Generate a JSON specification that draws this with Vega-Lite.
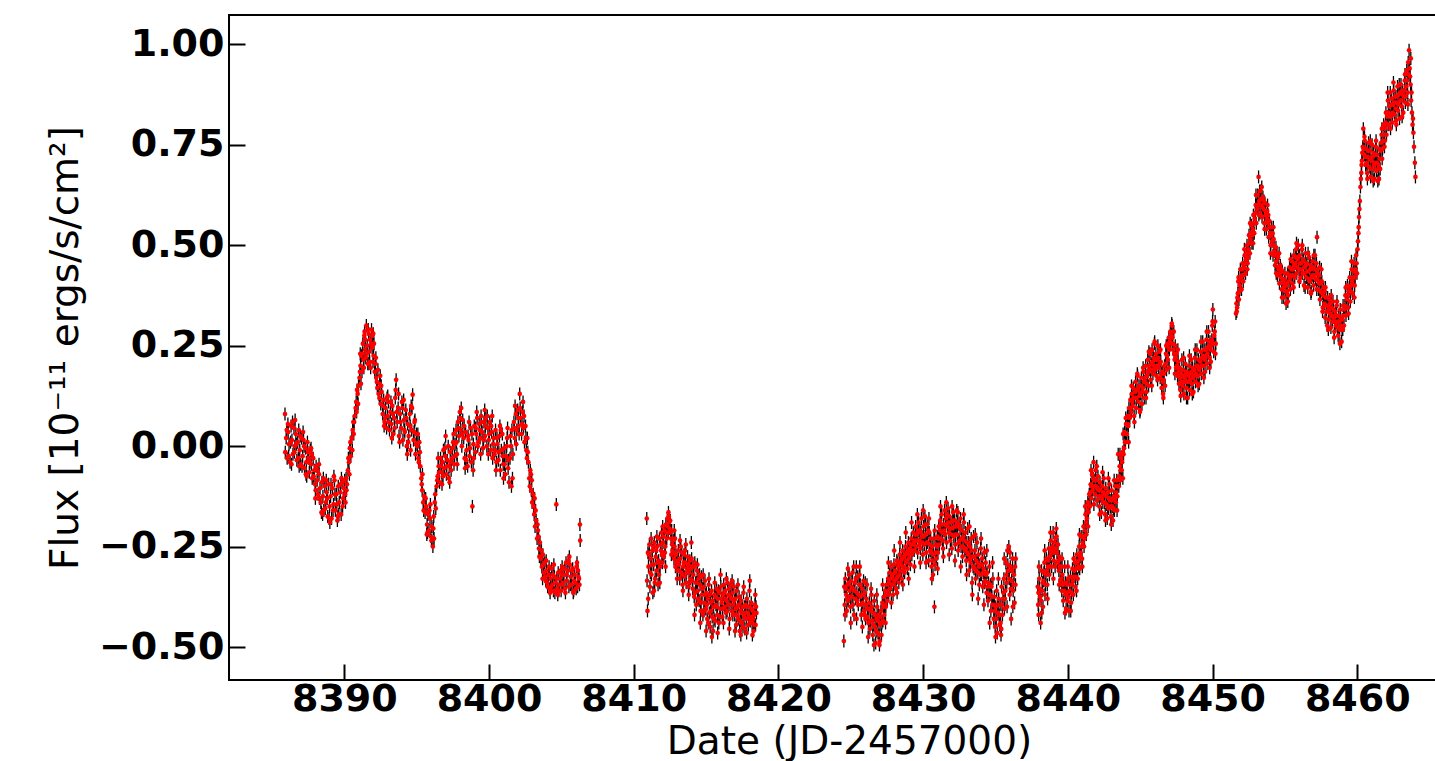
{
"$schema": "https://vega.github.io/schema/vega-lite/v6.json",
"width": 1208, "height": 665,
"autosize": "none",
"padding": {"left": 229, "top": 15, "right": 0, "bottom": 81},
"background": "white",
"config": {"view": {"stroke": "black", "strokeWidth": 2}, "font": "DejaVu Sans"},
"data": {"values": [
{"t":8385.90,"f":0.080},{"t":8385.92,"f":-0.015},{"t":8385.98,"f":0.020},{"t":8386.05,"f":-0.030},{"t":8386.12,"f":0.035},{"t":8386.18,"f":0.005},{"t":8386.25,"f":-0.040},{"t":8386.32,"f":0.050},{"t":8386.38,"f":0.015},{"t":8386.45,"f":-0.020},{"t":8386.52,"f":0.045},{"t":8386.58,"f":0.000},{"t":8386.65,"f":0.030},{"t":8386.72,"f":-0.035},{"t":8386.78,"f":0.010},{"t":8386.85,"f":0.040},{"t":8386.92,"f":-0.010},{"t":8386.98,"f":-0.045},{"t":8387.05,"f":0.020},{"t":8387.12,"f":-0.025},{"t":8387.18,"f":0.015},{"t":8387.25,"f":-0.055},{"t":8387.32,"f":-0.005},{"t":8387.38,"f":-0.040},{"t":8387.45,"f":0.010},{"t":8387.52,"f":-0.030},{"t":8387.58,"f":-0.065},{"t":8387.65,"f":-0.010},{"t":8387.72,"f":-0.045},{"t":8387.78,"f":-0.080},{"t":8387.85,"f":-0.030},{"t":8387.92,"f":-0.060},{"t":8387.98,"f":-0.095},{"t":8388.05,"f":-0.050},{"t":8388.12,"f":-0.085},{"t":8388.18,"f":-0.120},{"t":8388.25,"f":-0.070},{"t":8388.32,"f":-0.105},{"t":8388.38,"f":-0.140},{"t":8388.45,"f":-0.090},{"t":8388.52,"f":-0.125},{"t":8388.58,"f":-0.160},{"t":8388.65,"f":-0.100},{"t":8388.72,"f":-0.140},{"t":8388.78,"f":-0.115},{"t":8388.85,"f":-0.175},{"t":8388.92,"f":-0.095},{"t":8388.98,"f":-0.150},{"t":8389.05,"f":-0.125},{"t":8389.12,"f":-0.180},{"t":8389.18,"f":-0.105},{"t":8389.25,"f":-0.145},{"t":8389.32,"f":-0.085},{"t":8389.38,"f":-0.160},{"t":8389.45,"f":-0.120},{"t":8389.52,"f":-0.185},{"t":8389.58,"f":-0.100},{"t":8389.65,"f":-0.140},{"t":8389.72,"f":-0.115},{"t":8389.78,"f":-0.170},{"t":8389.85,"f":-0.090},{"t":8389.92,"f":-0.130},{"t":8389.98,"f":-0.105},{"t":8390.05,"f":-0.120},{"t":8390.12,"f":-0.080},{"t":8390.18,"f":-0.095},{"t":8390.25,"f":-0.060},{"t":8390.32,"f":-0.040},{"t":8390.38,"f":-0.005},{"t":8390.45,"f":-0.025},{"t":8390.52,"f":0.020},{"t":8390.58,"f":0.040},{"t":8390.65,"f":0.030},{"t":8390.72,"f":0.075},{"t":8390.78,"f":0.095},{"t":8390.85,"f":0.085},{"t":8390.92,"f":0.130},{"t":8390.98,"f":0.150},{"t":8391.05,"f":0.170},{"t":8391.12,"f":0.200},{"t":8391.18,"f":0.225},{"t":8391.22,"f":0.185},{"t":8391.28,"f":0.255},{"t":8391.32,"f":0.215},{"t":8391.38,"f":0.275},{"t":8391.42,"f":0.240},{"t":8391.48,"f":0.220},{"t":8391.52,"f":0.300},{"t":8391.58,"f":0.250},{"t":8391.62,"f":0.205},{"t":8391.68,"f":0.280},{"t":8391.72,"f":0.235},{"t":8391.78,"f":0.265},{"t":8391.82,"f":0.195},{"t":8391.88,"f":0.290},{"t":8391.92,"f":0.245},{"t":8391.98,"f":0.210},{"t":8392.05,"f":0.255},{"t":8392.10,"f":0.185},{"t":8392.18,"f":0.220},{"t":8392.25,"f":0.160},{"t":8392.32,"f":0.190},{"t":8392.38,"f":0.130},{"t":8392.45,"f":0.155},{"t":8392.52,"f":0.105},{"t":8392.58,"f":0.135},{"t":8392.65,"f":0.080},{"t":8392.72,"f":0.115},{"t":8392.78,"f":0.060},{"t":8392.85,"f":0.095},{"t":8392.92,"f":0.045},{"t":8392.98,"f":0.075},{"t":8393.05,"f":0.110},{"t":8393.12,"f":0.040},{"t":8393.18,"f":0.085},{"t":8393.25,"f":0.055},{"t":8393.32,"f":0.100},{"t":8393.38,"f":0.030},{"t":8393.45,"f":0.070},{"t":8393.52,"f":0.120},{"t":8393.58,"f":0.165},{"t":8393.65,"f":0.060},{"t":8393.72,"f":0.095},{"t":8393.78,"f":0.025},{"t":8393.85,"f":0.080},{"t":8393.92,"f":0.045},{"t":8393.98,"f":0.110},{"t":8394.05,"f":0.015},{"t":8394.12,"f":0.065},{"t":8394.18,"f":0.035},{"t":8394.25,"f":0.090},{"t":8394.32,"f":0.000},{"t":8394.38,"f":0.055},{"t":8394.45,"f":0.025},{"t":8394.52,"f":0.080},{"t":8394.58,"f":-0.010},{"t":8394.65,"f":0.040},{"t":8394.72,"f":0.128},{"t":8394.78,"f":0.015},{"t":8394.85,"f":0.060},{"t":8394.92,"f":-0.020},{"t":8394.98,"f":0.030},{"t":8395.05,"f":0.000},{"t":8395.12,"f":-0.030},{"t":8395.18,"f":0.010},{"t":8395.25,"f":-0.050},{"t":8395.32,"f":-0.080},{"t":8395.38,"f":-0.110},{"t":8395.45,"f":-0.140},{"t":8395.52,"f":-0.125},{"t":8395.58,"f":-0.165},{"t":8395.65,"f":-0.150},{"t":8395.72,"f":-0.195},{"t":8395.78,"f":-0.170},{"t":8395.85,"f":-0.210},{"t":8395.92,"f":-0.180},{"t":8395.98,"f":-0.225},{"t":8396.05,"f":-0.200},{"t":8396.12,"f":-0.250},{"t":8396.18,"f":-0.175},{"t":8396.25,"f":-0.140},{"t":8396.32,"f":-0.155},{"t":8396.38,"f":-0.100},{"t":8396.45,"f":-0.075},{"t":8396.52,"f":-0.050},{"t":8396.58,"f":-0.090},{"t":8396.65,"f":-0.030},{"t":8396.72,"f":-0.065},{"t":8396.78,"f":-0.040},{"t":8396.85,"f":-0.010},{"t":8396.92,"f":-0.055},{"t":8396.98,"f":-0.025},{"t":8397.05,"f":-0.070},{"t":8397.12,"f":-0.035},{"t":8397.18,"f":0.000},{"t":8397.25,"f":-0.050},{"t":8397.32,"f":-0.015},{"t":8397.38,"f":-0.060},{"t":8397.45,"f":-0.030},{"t":8397.52,"f":0.010},{"t":8397.58,"f":-0.045},{"t":8397.65,"f":0.005},{"t":8397.72,"f":0.040},{"t":8397.78,"f":-0.020},{"t":8397.85,"f":0.060},{"t":8397.92,"f":0.025},{"t":8397.98,"f":0.085},{"t":8398.05,"f":0.040},{"t":8398.12,"f":0.000},{"t":8398.18,"f":0.065},{"t":8398.25,"f":0.020},{"t":8398.32,"f":-0.030},{"t":8398.38,"f":0.035},{"t":8398.45,"f":-0.010},{"t":8398.52,"f":-0.050},{"t":8398.58,"f":0.015},{"t":8398.65,"f":-0.025},{"t":8398.72,"f":0.045},{"t":8398.78,"f":-0.040},{"t":8398.85,"f":-0.150},{"t":8398.92,"f":0.005},{"t":8398.98,"f":0.050},{"t":8399.05,"f":-0.015},{"t":8399.12,"f":0.030},{"t":8399.18,"f":0.070},{"t":8399.25,"f":0.010},{"t":8399.32,"f":0.055},{"t":8399.38,"f":0.020},{"t":8399.45,"f":0.075},{"t":8399.52,"f":0.035},{"t":8399.58,"f":-0.005},{"t":8399.65,"f":0.060},{"t":8399.72,"f":0.025},{"t":8399.78,"f":0.070},{"t":8399.85,"f":0.000},{"t":8399.92,"f":0.045},{"t":8399.98,"f":0.015},{"t":8400.05,"f":0.060},{"t":8400.12,"f":-0.010},{"t":8400.18,"f":0.035},{"t":8400.25,"f":-0.030},{"t":8400.32,"f":0.020},{"t":8400.38,"f":-0.020},{"t":8400.45,"f":0.040},{"t":8400.52,"f":-0.040},{"t":8400.58,"f":0.005},{"t":8400.65,"f":-0.035},{"t":8400.72,"f":0.025},{"t":8400.78,"f":-0.060},{"t":8400.85,"f":-0.010},{"t":8400.92,"f":0.030},{"t":8400.98,"f":-0.045},{"t":8401.05,"f":-0.005},{"t":8401.12,"f":-0.070},{"t":8401.18,"f":-0.025},{"t":8401.25,"f":0.020},{"t":8401.32,"f":-0.055},{"t":8401.38,"f":-0.090},{"t":8401.45,"f":-0.030},{"t":8401.52,"f":0.000},{"t":8401.58,"f":0.040},{"t":8401.65,"f":-0.020},{"t":8401.72,"f":0.060},{"t":8401.78,"f":0.020},{"t":8401.85,"f":0.080},{"t":8401.92,"f":0.040},{"t":8401.98,"f":0.090},{"t":8402.05,"f":0.050},{"t":8402.12,"f":0.130},{"t":8402.18,"f":0.070},{"t":8402.25,"f":0.030},{"t":8402.32,"f":0.085},{"t":8402.38,"f":0.045},{"t":8402.45,"f":0.010},{"t":8402.52,"f":0.050},{"t":8402.58,"f":-0.010},{"t":8402.65,"f":0.020},{"t":8402.72,"f":-0.040},{"t":8402.78,"f":-0.080},{"t":8402.85,"f":-0.060},{"t":8402.92,"f":-0.110},{"t":8402.98,"f":-0.140},{"t":8403.05,"f":-0.120},{"t":8403.12,"f":-0.170},{"t":8403.18,"f":-0.200},{"t":8403.25,"f":-0.185},{"t":8403.32,"f":-0.230},{"t":8403.38,"f":-0.210},{"t":8403.45,"f":-0.255},{"t":8403.52,"f":-0.240},{"t":8403.58,"f":-0.280},{"t":8403.65,"f":-0.300},{"t":8403.72,"f":-0.270},{"t":8403.78,"f":-0.315},{"t":8403.85,"f":-0.290},{"t":8403.92,"f":-0.335},{"t":8403.98,"f":-0.310},{"t":8404.05,"f":-0.350},{"t":8404.12,"f":-0.320},{"t":8404.18,"f":-0.355},{"t":8404.25,"f":-0.330},{"t":8404.32,"f":-0.305},{"t":8404.38,"f":-0.345},{"t":8404.45,"f":-0.360},{"t":8404.52,"f":-0.325},{"t":8404.58,"f":-0.340},{"t":8404.65,"f":-0.145},{"t":8404.70,"f":-0.355},{"t":8404.78,"f":-0.315},{"t":8404.85,"f":-0.345},{"t":8404.92,"f":-0.330},{"t":8404.98,"f":-0.360},{"t":8405.05,"f":-0.300},{"t":8405.12,"f":-0.340},{"t":8405.18,"f":-0.320},{"t":8405.25,"f":-0.355},{"t":8405.32,"f":-0.290},{"t":8405.38,"f":-0.335},{"t":8405.45,"f":-0.310},{"t":8405.52,"f":-0.350},{"t":8405.58,"f":-0.295},{"t":8405.65,"f":-0.325},{"t":8405.72,"f":-0.345},{"t":8405.78,"f":-0.305},{"t":8405.85,"f":-0.360},{"t":8405.92,"f":-0.320},{"t":8405.98,"f":-0.340},{"t":8406.05,"f":-0.300},{"t":8406.12,"f":-0.350},{"t":8406.18,"f":-0.325},{"t":8406.25,"f":-0.345},{"t":8406.28,"f":-0.195},{"t":8406.30,"f":-0.235},
{"t":8410.90,"f":-0.180},{"t":8410.92,"f":-0.335},{"t":8410.95,"f":-0.410},{"t":8410.98,"f":-0.265},{"t":8411.02,"f":-0.300},{"t":8411.08,"f":-0.245},{"t":8411.12,"f":-0.350},{"t":8411.18,"f":-0.280},{"t":8411.22,"f":-0.320},{"t":8411.28,"f":-0.260},{"t":8411.32,"f":-0.365},{"t":8411.38,"f":-0.295},{"t":8411.42,"f":-0.240},{"t":8411.48,"f":-0.330},{"t":8411.52,"f":-0.275},{"t":8411.58,"f":-0.310},{"t":8411.62,"f":-0.250},{"t":8411.68,"f":-0.345},{"t":8411.72,"f":-0.285},{"t":8411.78,"f":-0.230},{"t":8411.82,"f":-0.300},{"t":8411.88,"f":-0.260},{"t":8411.92,"f":-0.215},{"t":8411.98,"f":-0.290},{"t":8412.02,"f":-0.240},{"t":8412.08,"f":-0.275},{"t":8412.12,"f":-0.210},{"t":8412.18,"f":-0.250},{"t":8412.22,"f":-0.195},{"t":8412.28,"f":-0.230},{"t":8412.32,"f":-0.180},{"t":8412.38,"f":-0.215},{"t":8412.42,"f":-0.175},{"t":8412.48,"f":-0.205},{"t":8412.52,"f":-0.185},{"t":8412.58,"f":-0.230},{"t":8412.62,"f":-0.210},{"t":8412.68,"f":-0.260},{"t":8412.72,"f":-0.235},{"t":8412.78,"f":-0.280},{"t":8412.82,"f":-0.250},{"t":8412.88,"f":-0.300},{"t":8412.92,"f":-0.270},{"t":8413.02,"f":-0.310},{"t":8413.08,"f":-0.260},{"t":8413.12,"f":-0.295},{"t":8413.18,"f":-0.330},{"t":8413.22,"f":-0.280},{"t":8413.28,"f":-0.315},{"t":8413.32,"f":-0.265},{"t":8413.38,"f":-0.345},{"t":8413.42,"f":-0.300},{"t":8413.48,"f":-0.270},{"t":8413.52,"f":-0.325},{"t":8413.58,"f":-0.290},{"t":8413.62,"f":-0.340},{"t":8413.68,"f":-0.305},{"t":8413.72,"f":-0.275},{"t":8413.78,"f":-0.350},{"t":8413.82,"f":-0.315},{"t":8413.88,"f":-0.285},{"t":8413.92,"f":-0.330},{"t":8413.98,"f":-0.240},{"t":8414.02,"f":-0.300},{"t":8414.08,"f":-0.355},{"t":8414.12,"f":-0.320},{"t":8414.18,"f":-0.375},{"t":8414.22,"f":-0.290},{"t":8414.28,"f":-0.340},{"t":8414.32,"f":-0.395},{"t":8414.38,"f":-0.310},{"t":8414.42,"f":-0.360},{"t":8414.48,"f":-0.330},{"t":8414.52,"f":-0.385},{"t":8414.58,"f":-0.345},{"t":8414.62,"f":-0.410},{"t":8414.68,"f":-0.325},{"t":8414.72,"f":-0.370},{"t":8414.78,"f":-0.420},{"t":8414.82,"f":-0.350},{"t":8414.88,"f":-0.390},{"t":8414.92,"f":-0.335},{"t":8414.98,"f":-0.405},{"t":8415.02,"f":-0.365},{"t":8415.08,"f":-0.430},{"t":8415.12,"f":-0.380},{"t":8415.18,"f":-0.345},{"t":8415.22,"f":-0.415},{"t":8415.28,"f":-0.450},{"t":8415.32,"f":-0.390},{"t":8415.38,"f":-0.360},{"t":8415.42,"f":-0.425},{"t":8415.48,"f":-0.460},{"t":8415.52,"f":-0.400},{"t":8415.58,"f":-0.370},{"t":8415.62,"f":-0.435},{"t":8415.68,"f":-0.395},{"t":8415.72,"f":-0.355},{"t":8415.78,"f":-0.420},{"t":8415.82,"f":-0.380},{"t":8415.88,"f":-0.440},{"t":8415.92,"f":-0.365},{"t":8415.98,"f":-0.405},{"t":8416.02,"f":-0.350},{"t":8416.08,"f":-0.390},{"t":8416.12,"f":-0.425},{"t":8416.18,"f":-0.370},{"t":8416.22,"f":-0.345},{"t":8416.28,"f":-0.400},{"t":8416.32,"f":-0.360},{"t":8416.38,"f":-0.415},{"t":8416.42,"f":-0.385},{"t":8416.48,"f":-0.340},{"t":8416.52,"f":-0.395},{"t":8416.58,"f":-0.355},{"t":8416.62,"f":-0.430},{"t":8416.68,"f":-0.375},{"t":8416.72,"f":-0.345},{"t":8416.78,"f":-0.410},{"t":8416.82,"f":-0.365},{"t":8416.88,"f":-0.395},{"t":8416.92,"f":-0.350},{"t":8416.98,"f":-0.420},{"t":8417.02,"f":-0.380},{"t":8417.08,"f":-0.445},{"t":8417.12,"f":-0.360},{"t":8417.18,"f":-0.400},{"t":8417.22,"f":-0.430},{"t":8417.28,"f":-0.375},{"t":8417.32,"f":-0.460},{"t":8417.38,"f":-0.410},{"t":8417.42,"f":-0.385},{"t":8417.48,"f":-0.440},{"t":8417.52,"f":-0.400},{"t":8417.58,"f":-0.365},{"t":8417.62,"f":-0.425},{"t":8417.68,"f":-0.455},{"t":8417.72,"f":-0.395},{"t":8417.78,"f":-0.430},{"t":8417.82,"f":-0.380},{"t":8417.88,"f":-0.415},{"t":8417.92,"f":-0.445},{"t":8417.98,"f":-0.400},{"t":8418.02,"f":-0.335},{"t":8418.08,"f":-0.425},{"t":8418.12,"f":-0.390},{"t":8418.18,"f":-0.440},{"t":8418.22,"f":-0.410},{"t":8418.28,"f":-0.460},{"t":8418.32,"f":-0.420},{"t":8418.38,"f":-0.395},{"t":8418.42,"f":-0.445},{"t":8418.48,"f":-0.415},
{"t":8424.52,"f":-0.485},{"t":8424.55,"f":-0.350},{"t":8424.58,"f":-0.395},{"t":8424.62,"f":-0.330},{"t":8424.68,"f":-0.370},{"t":8424.72,"f":-0.410},{"t":8424.78,"f":-0.345},{"t":8424.82,"f":-0.385},{"t":8424.88,"f":-0.320},{"t":8424.92,"f":-0.360},{"t":8424.98,"f":-0.400},{"t":8425.02,"f":-0.335},{"t":8425.08,"f":-0.375},{"t":8425.12,"f":-0.315},{"t":8425.18,"f":-0.355},{"t":8425.22,"f":-0.420},{"t":8425.28,"f":-0.340},{"t":8425.32,"f":-0.380},{"t":8425.38,"f":-0.300},{"t":8425.42,"f":-0.365},{"t":8425.48,"f":-0.325},{"t":8425.52,"f":-0.395},{"t":8425.58,"f":-0.345},{"t":8425.62,"f":-0.300},{"t":8425.68,"f":-0.375},{"t":8425.72,"f":-0.420},{"t":8425.78,"f":-0.355},{"t":8425.82,"f":-0.390},{"t":8425.88,"f":-0.335},{"t":8425.92,"f":-0.410},{"t":8425.98,"f":-0.365},{"t":8426.02,"f":-0.430},{"t":8426.08,"f":-0.380},{"t":8426.12,"f":-0.345},{"t":8426.18,"f":-0.405},{"t":8426.22,"f":-0.440},{"t":8426.28,"f":-0.390},{"t":8426.32,"f":-0.455},{"t":8426.38,"f":-0.410},{"t":8426.42,"f":-0.370},{"t":8426.48,"f":-0.435},{"t":8426.52,"f":-0.470},{"t":8426.58,"f":-0.415},{"t":8426.62,"f":-0.385},{"t":8426.68,"f":-0.450},{"t":8426.72,"f":-0.490},{"t":8426.78,"f":-0.430},{"t":8426.82,"f":-0.400},{"t":8426.88,"f":-0.465},{"t":8426.92,"f":-0.420},{"t":8426.98,"f":-0.495},{"t":8427.02,"f":-0.445},{"t":8427.08,"f":-0.410},{"t":8427.12,"f":-0.470},{"t":8427.18,"f":-0.390},{"t":8427.22,"f":-0.435},{"t":8427.28,"f":-0.375},{"t":8427.32,"f":-0.420},{"t":8427.38,"f":-0.360},{"t":8427.42,"f":-0.400},{"t":8427.48,"f":-0.345},{"t":8427.52,"f":-0.385},{"t":8427.58,"f":-0.330},{"t":8427.62,"f":-0.370},{"t":8427.68,"f":-0.315},{"t":8427.72,"f":-0.355},{"t":8427.78,"f":-0.300},{"t":8427.82,"f":-0.345},{"t":8427.88,"f":-0.320},{"t":8427.92,"f":-0.370},{"t":8427.98,"f":-0.295},{"t":8428.02,"f":-0.335},{"t":8428.08,"f":-0.310},{"t":8428.12,"f":-0.355},{"t":8428.18,"f":-0.285},{"t":8428.22,"f":-0.325},{"t":8428.28,"f":-0.300},{"t":8428.32,"f":-0.340},{"t":8428.38,"f":-0.270},{"t":8428.42,"f":-0.310},{"t":8428.48,"f":-0.285},{"t":8428.52,"f":-0.330},{"t":8428.58,"f":-0.260},{"t":8428.62,"f":-0.300},{"t":8428.68,"f":-0.275},{"t":8428.72,"f":-0.315},{"t":8428.78,"f":-0.250},{"t":8428.82,"f":-0.290},{"t":8428.88,"f":-0.265},{"t":8428.92,"f":-0.305},{"t":8428.98,"f":-0.240},{"t":8429.02,"f":-0.280},{"t":8429.08,"f":-0.255},{"t":8429.12,"f":-0.295},{"t":8429.18,"f":-0.230},{"t":8429.22,"f":-0.270},{"t":8429.28,"f":-0.245},{"t":8429.32,"f":-0.215},{"t":8429.38,"f":-0.260},{"t":8429.42,"f":-0.235},{"t":8429.48,"f":-0.200},{"t":8429.52,"f":-0.250},{"t":8429.58,"f":-0.220},{"t":8429.62,"f":-0.265},{"t":8429.68,"f":-0.190},{"t":8429.72,"f":-0.235},{"t":8429.78,"f":-0.210},{"t":8429.82,"f":-0.255},{"t":8429.88,"f":-0.180},{"t":8429.92,"f":-0.225},{"t":8429.98,"f":-0.270},{"t":8430.02,"f":-0.200},{"t":8430.08,"f":-0.245},{"t":8430.12,"f":-0.175},{"t":8430.18,"f":-0.220},{"t":8430.22,"f":-0.265},{"t":8430.28,"f":-0.195},{"t":8430.32,"f":-0.240},{"t":8430.38,"f":-0.285},{"t":8430.42,"f":-0.215},{"t":8430.48,"f":-0.260},{"t":8430.52,"f":-0.230},{"t":8430.58,"f":-0.300},{"t":8430.62,"f":-0.250},{"t":8430.68,"f":-0.320},{"t":8430.72,"f":-0.270},{"t":8430.78,"f":-0.400},{"t":8430.82,"f":-0.295},{"t":8430.88,"f":-0.245},{"t":8430.92,"f":-0.280},{"t":8430.98,"f":-0.225},{"t":8431.02,"f":-0.265},{"t":8431.08,"f":-0.200},{"t":8431.12,"f":-0.245},{"t":8431.18,"f":-0.185},{"t":8431.22,"f":-0.230},{"t":8431.28,"f":-0.170},{"t":8431.32,"f":-0.215},{"t":8431.38,"f":-0.255},{"t":8431.42,"f":-0.195},{"t":8431.48,"f":-0.160},{"t":8431.52,"f":-0.220},{"t":8431.58,"f":-0.180},{"t":8431.62,"f":-0.240},{"t":8431.68,"f":-0.200},{"t":8431.72,"f":-0.155},{"t":8431.78,"f":-0.215},{"t":8431.82,"f":-0.175},{"t":8431.88,"f":-0.235},{"t":8431.92,"f":-0.190},{"t":8431.98,"f":-0.255},{"t":8432.02,"f":-0.205},{"t":8432.08,"f":-0.165},{"t":8432.12,"f":-0.225},{"t":8432.18,"f":-0.185},{"t":8432.22,"f":-0.245},{"t":8432.28,"f":-0.200},{"t":8432.32,"f":-0.160},{"t":8432.38,"f":-0.220},{"t":8432.42,"f":-0.260},{"t":8432.48,"f":-0.195},{"t":8432.52,"f":-0.235},{"t":8432.58,"f":-0.180},{"t":8432.62,"f":-0.250},{"t":8432.68,"f":-0.210},{"t":8432.72,"f":-0.275},{"t":8432.78,"f":-0.225},{"t":8432.82,"f":-0.190},{"t":8432.88,"f":-0.260},{"t":8432.92,"f":-0.215},{"t":8432.98,"f":-0.285},{"t":8433.02,"f":-0.240},{"t":8433.08,"f":-0.205},{"t":8433.12,"f":-0.270},{"t":8433.18,"f":-0.310},{"t":8433.22,"f":-0.250},{"t":8433.28,"f":-0.290},{"t":8433.32,"f":-0.230},{"t":8433.38,"f":-0.340},{"t":8433.42,"f":-0.275},{"t":8433.48,"f":-0.225},{"t":8433.52,"f":-0.305},{"t":8433.58,"f":-0.260},{"t":8433.62,"f":-0.330},{"t":8433.68,"f":-0.285},{"t":8433.72,"f":-0.240},{"t":8433.78,"f":-0.315},{"t":8433.82,"f":-0.270},{"t":8433.88,"f":-0.345},{"t":8433.92,"f":-0.295},{"t":8433.98,"f":-0.255},{"t":8434.02,"f":-0.320},{"t":8434.08,"f":-0.280},{"t":8434.12,"f":-0.350},{"t":8434.18,"f":-0.305},{"t":8434.22,"f":-0.265},{"t":8434.28,"f":-0.335},{"t":8434.32,"f":-0.290},{"t":8434.38,"f":-0.365},{"t":8434.42,"f":-0.315},{"t":8434.48,"f":-0.385},{"t":8434.52,"f":-0.340},{"t":8434.58,"f":-0.300},{"t":8434.62,"f":-0.370},{"t":8434.68,"f":-0.410},{"t":8434.72,"f":-0.350},{"t":8434.78,"f":-0.395},{"t":8434.82,"f":-0.330},{"t":8434.88,"f":-0.430},{"t":8434.92,"f":-0.375},{"t":8434.98,"f":-0.450},{"t":8435.02,"f":-0.400},{"t":8435.08,"f":-0.360},{"t":8435.12,"f":-0.465},{"t":8435.18,"f":-0.415},{"t":8435.22,"f":-0.380},{"t":8435.28,"f":-0.445},{"t":8435.32,"f":-0.395},{"t":8435.38,"f":-0.470},{"t":8435.42,"f":-0.350},{"t":8435.48,"f":-0.420},{"t":8435.52,"f":-0.380},{"t":8435.58,"f":-0.330},{"t":8435.62,"f":-0.405},{"t":8435.68,"f":-0.360},{"t":8435.72,"f":-0.290},{"t":8435.78,"f":-0.340},{"t":8435.82,"f":-0.260},{"t":8435.88,"f":-0.310},{"t":8435.92,"f":-0.250},{"t":8435.98,"f":-0.370},{"t":8436.02,"f":-0.300},{"t":8436.08,"f":-0.430},{"t":8436.12,"f":-0.335},{"t":8436.18,"f":-0.280},{"t":8436.22,"f":-0.360},{"t":8436.28,"f":-0.320},{"t":8436.32,"f":-0.390},{"t":8436.38,"f":-0.345},
{"t":8437.92,"f":-0.350},{"t":8437.95,"f":-0.395},{"t":8437.98,"f":-0.420},{"t":8438.02,"f":-0.330},{"t":8438.08,"f":-0.375},{"t":8438.12,"f":-0.440},{"t":8438.18,"f":-0.310},{"t":8438.22,"f":-0.360},{"t":8438.28,"f":-0.400},{"t":8438.32,"f":-0.335},{"t":8438.38,"f":-0.290},{"t":8438.42,"f":-0.370},{"t":8438.48,"f":-0.320},{"t":8438.52,"f":-0.280},{"t":8438.58,"f":-0.345},{"t":8438.62,"f":-0.300},{"t":8438.68,"f":-0.255},{"t":8438.72,"f":-0.320},{"t":8438.78,"f":-0.275},{"t":8438.82,"f":-0.235},{"t":8438.88,"f":-0.300},{"t":8438.92,"f":-0.260},{"t":8438.98,"f":-0.215},{"t":8439.02,"f":-0.285},{"t":8439.08,"f":-0.240},{"t":8439.12,"f":-0.300},{"t":8439.18,"f":-0.255},{"t":8439.22,"f":-0.225},{"t":8439.28,"f":-0.290},{"t":8439.32,"f":-0.245},{"t":8439.38,"f":-0.310},{"t":8439.42,"f":-0.275},{"t":8439.48,"f":-0.335},{"t":8439.52,"f":-0.300},{"t":8439.58,"f":-0.360},{"t":8439.62,"f":-0.320},{"t":8439.68,"f":-0.385},{"t":8439.72,"f":-0.340},{"t":8439.78,"f":-0.300},{"t":8439.82,"f":-0.370},{"t":8439.88,"f":-0.405},{"t":8439.92,"f":-0.345},{"t":8439.98,"f":-0.385},{"t":8440.02,"f":-0.330},{"t":8440.08,"f":-0.410},{"t":8440.12,"f":-0.360},{"t":8440.18,"f":-0.325},{"t":8440.22,"f":-0.390},{"t":8440.28,"f":-0.345},{"t":8440.32,"f":-0.305},{"t":8440.38,"f":-0.370},{"t":8440.42,"f":-0.325},{"t":8440.48,"f":-0.290},{"t":8440.52,"f":-0.350},{"t":8440.58,"f":-0.305},{"t":8440.62,"f":-0.270},{"t":8440.68,"f":-0.330},{"t":8440.72,"f":-0.285},{"t":8440.78,"f":-0.250},{"t":8440.82,"f":-0.305},{"t":8440.88,"f":-0.265},{"t":8440.92,"f":-0.225},{"t":8440.98,"f":-0.280},{"t":8441.02,"f":-0.240},{"t":8441.08,"f":-0.200},{"t":8441.12,"f":-0.250},{"t":8441.18,"f":-0.210},{"t":8441.22,"f":-0.170},{"t":8441.28,"f":-0.220},{"t":8441.32,"f":-0.180},{"t":8441.38,"f":-0.140},{"t":8441.42,"f":-0.165},{"t":8441.48,"f":-0.120},{"t":8441.52,"f":-0.150},{"t":8441.58,"f":-0.095},{"t":8441.62,"f":-0.130},{"t":8441.68,"f":-0.070},{"t":8441.72,"f":-0.110},{"t":8441.78,"f":-0.040},{"t":8441.82,"f":-0.085},{"t":8441.88,"f":-0.120},{"t":8441.92,"f":-0.060},{"t":8441.98,"f":-0.100},{"t":8442.02,"f":-0.135},{"t":8442.08,"f":-0.075},{"t":8442.12,"f":-0.110},{"t":8442.18,"f":-0.150},{"t":8442.22,"f":-0.090},{"t":8442.28,"f":-0.125},{"t":8442.32,"f":-0.165},{"t":8442.38,"f":-0.100},{"t":8442.42,"f":-0.140},{"t":8442.48,"f":-0.080},{"t":8442.52,"f":-0.120},{"t":8442.58,"f":-0.170},{"t":8442.62,"f":-0.105},{"t":8442.68,"f":-0.145},{"t":8442.72,"f":-0.180},{"t":8442.78,"f":-0.115},{"t":8442.82,"f":-0.155},{"t":8442.88,"f":-0.095},{"t":8442.92,"f":-0.135},{"t":8442.98,"f":-0.175},{"t":8443.02,"f":-0.110},{"t":8443.08,"f":-0.150},{"t":8443.12,"f":-0.185},{"t":8443.18,"f":-0.125},{"t":8443.22,"f":-0.160},{"t":8443.28,"f":-0.100},{"t":8443.32,"f":-0.140},{"t":8443.38,"f":-0.085},{"t":8443.42,"f":-0.125},{"t":8443.48,"f":-0.020},{"t":8443.52,"f":-0.100},{"t":8443.58,"f":-0.050},{"t":8443.62,"f":-0.085},{"t":8443.68,"f":-0.030},{"t":8443.72,"f":-0.060},{"t":8443.78,"f":-0.015},{"t":8443.82,"f":0.030},{"t":8443.88,"f":-0.005},{"t":8443.92,"f":0.035},{"t":8443.98,"f":0.010},{"t":8444.02,"f":0.055},{"t":8444.08,"f":0.030},{"t":8444.12,"f":0.075},{"t":8444.18,"f":0.050},{"t":8444.22,"f":0.095},{"t":8444.28,"f":0.070},{"t":8444.32,"f":0.115},{"t":8444.38,"f":0.085},{"t":8444.42,"f":0.130},{"t":8444.48,"f":0.100},{"t":8444.52,"f":0.145},{"t":8444.58,"f":0.075},{"t":8444.62,"f":0.120},{"t":8444.68,"f":0.160},{"t":8444.72,"f":0.095},{"t":8444.78,"f":0.140},{"t":8444.82,"f":0.175},{"t":8444.88,"f":0.110},{"t":8444.92,"f":0.150},{"t":8444.98,"f":0.085},{"t":8445.02,"f":0.130},{"t":8445.08,"f":0.170},{"t":8445.12,"f":0.105},{"t":8445.18,"f":0.145},{"t":8445.22,"f":0.185},{"t":8445.28,"f":0.120},{"t":8445.32,"f":0.160},{"t":8445.38,"f":0.200},{"t":8445.42,"f":0.135},{"t":8445.48,"f":0.175},{"t":8445.52,"f":0.215},{"t":8445.58,"f":0.150},{"t":8445.62,"f":0.190},{"t":8445.68,"f":0.230},{"t":8445.72,"f":0.165},{"t":8445.78,"f":0.205},{"t":8445.82,"f":0.240},{"t":8445.88,"f":0.180},{"t":8445.92,"f":0.220},{"t":8445.98,"f":0.255},{"t":8446.02,"f":0.190},{"t":8446.08,"f":0.230},{"t":8446.12,"f":0.175},{"t":8446.18,"f":0.215},{"t":8446.22,"f":0.250},{"t":8446.28,"f":0.195},{"t":8446.32,"f":0.235},{"t":8446.38,"f":0.170},{"t":8446.42,"f":0.210},{"t":8446.48,"f":0.145},{"t":8446.52,"f":0.185},{"t":8446.58,"f":0.130},{"t":8446.62,"f":0.165},{"t":8446.68,"f":0.200},{"t":8446.72,"f":0.150},{"t":8446.78,"f":0.230},{"t":8446.82,"f":0.190},{"t":8446.88,"f":0.255},{"t":8446.92,"f":0.215},{"t":8446.98,"f":0.270},{"t":8447.02,"f":0.240},{"t":8447.08,"f":0.285},{"t":8447.12,"f":0.255},{"t":8447.18,"f":0.305},{"t":8447.22,"f":0.270},{"t":8447.28,"f":0.240},{"t":8447.32,"f":0.285},{"t":8447.38,"f":0.215},{"t":8447.42,"f":0.250},{"t":8447.48,"f":0.195},{"t":8447.52,"f":0.230},{"t":8447.58,"f":0.175},{"t":8447.62,"f":0.210},{"t":8447.68,"f":0.155},{"t":8447.72,"f":0.195},{"t":8447.78,"f":0.140},{"t":8447.82,"f":0.180},{"t":8447.88,"f":0.215},{"t":8447.92,"f":0.150},{"t":8447.98,"f":0.190},{"t":8448.02,"f":0.130},{"t":8448.08,"f":0.170},{"t":8448.12,"f":0.205},{"t":8448.18,"f":0.145},{"t":8448.22,"f":0.185},{"t":8448.28,"f":0.120},{"t":8448.32,"f":0.160},{"t":8448.38,"f":0.200},{"t":8448.42,"f":0.140},{"t":8448.48,"f":0.180},{"t":8448.52,"f":0.215},{"t":8448.58,"f":0.155},{"t":8448.62,"f":0.195},{"t":8448.68,"f":0.135},{"t":8448.72,"f":0.175},{"t":8448.78,"f":0.220},{"t":8448.82,"f":0.160},{"t":8448.88,"f":0.200},{"t":8448.92,"f":0.240},{"t":8448.98,"f":0.175},{"t":8449.02,"f":0.215},{"t":8449.08,"f":0.155},{"t":8449.12,"f":0.195},{"t":8449.18,"f":0.235},{"t":8449.22,"f":0.180},{"t":8449.28,"f":0.220},{"t":8449.32,"f":0.260},{"t":8449.38,"f":0.200},{"t":8449.42,"f":0.240},{"t":8449.48,"f":0.185},{"t":8449.52,"f":0.225},{"t":8449.58,"f":0.265},{"t":8449.62,"f":0.205},{"t":8449.68,"f":0.245},{"t":8449.72,"f":0.285},{"t":8449.78,"f":0.220},{"t":8449.82,"f":0.260},{"t":8449.88,"f":0.210},{"t":8449.92,"f":0.250},{"t":8449.98,"f":0.300},{"t":8450.02,"f":0.340},{"t":8450.08,"f":0.235},{"t":8450.12,"f":0.275},{"t":8450.18,"f":0.310},{"t":8450.22,"f":0.255},
{"t":8451.62,"f":0.330},{"t":8451.65,"f":0.355},{"t":8451.70,"f":0.345},{"t":8451.75,"f":0.380},{"t":8451.78,"f":0.410},{"t":8451.82,"f":0.365},{"t":8451.88,"f":0.400},{"t":8451.92,"f":0.440},{"t":8451.98,"f":0.390},{"t":8452.02,"f":0.425},{"t":8452.08,"f":0.455},{"t":8452.12,"f":0.410},{"t":8452.18,"f":0.445},{"t":8452.22,"f":0.475},{"t":8452.28,"f":0.430},{"t":8452.32,"f":0.465},{"t":8452.38,"f":0.500},{"t":8452.42,"f":0.455},{"t":8452.48,"f":0.490},{"t":8452.52,"f":0.525},{"t":8452.58,"f":0.480},{"t":8452.62,"f":0.515},{"t":8452.68,"f":0.550},{"t":8452.72,"f":0.505},{"t":8452.78,"f":0.540},{"t":8452.82,"f":0.575},{"t":8452.88,"f":0.530},{"t":8452.92,"f":0.565},{"t":8452.98,"f":0.600},{"t":8453.02,"f":0.555},{"t":8453.08,"f":0.590},{"t":8453.12,"f":0.625},{"t":8453.18,"f":0.670},{"t":8453.22,"f":0.610},{"t":8453.28,"f":0.580},{"t":8453.32,"f":0.635},{"t":8453.38,"f":0.600},{"t":8453.42,"f":0.570},{"t":8453.48,"f":0.620},{"t":8453.52,"f":0.590},{"t":8453.58,"f":0.555},{"t":8453.62,"f":0.605},{"t":8453.68,"f":0.575},{"t":8453.72,"f":0.540},{"t":8453.78,"f":0.585},{"t":8453.82,"f":0.555},{"t":8453.88,"f":0.520},{"t":8453.92,"f":0.560},{"t":8453.98,"f":0.530},{"t":8454.02,"f":0.500},{"t":8454.08,"f":0.545},{"t":8454.12,"f":0.510},{"t":8454.18,"f":0.475},{"t":8454.22,"f":0.515},{"t":8454.28,"f":0.485},{"t":8454.32,"f":0.450},{"t":8454.38,"f":0.495},{"t":8454.42,"f":0.460},{"t":8454.48,"f":0.425},{"t":8454.52,"f":0.470},{"t":8454.58,"f":0.440},{"t":8454.62,"f":0.405},{"t":8454.68,"f":0.450},{"t":8454.72,"f":0.420},{"t":8454.78,"f":0.390},{"t":8454.82,"f":0.435},{"t":8454.88,"f":0.405},{"t":8454.92,"f":0.370},{"t":8454.98,"f":0.415},{"t":8455.02,"f":0.385},{"t":8455.08,"f":0.355},{"t":8455.12,"f":0.400},{"t":8455.18,"f":0.430},{"t":8455.22,"f":0.375},{"t":8455.28,"f":0.410},{"t":8455.32,"f":0.445},{"t":8455.38,"f":0.390},{"t":8455.42,"f":0.425},{"t":8455.48,"f":0.460},{"t":8455.52,"f":0.405},{"t":8455.58,"f":0.440},{"t":8455.62,"f":0.475},{"t":8455.68,"f":0.420},{"t":8455.72,"f":0.455},{"t":8455.78,"f":0.490},{"t":8455.82,"f":0.430},{"t":8455.88,"f":0.465},{"t":8455.92,"f":0.500},{"t":8455.98,"f":0.440},{"t":8456.02,"f":0.475},{"t":8456.08,"f":0.420},{"t":8456.12,"f":0.455},{"t":8456.18,"f":0.490},{"t":8456.22,"f":0.430},{"t":8456.28,"f":0.465},{"t":8456.32,"f":0.400},{"t":8456.38,"f":0.445},{"t":8456.42,"f":0.480},{"t":8456.48,"f":0.420},{"t":8456.52,"f":0.455},{"t":8456.58,"f":0.395},{"t":8456.62,"f":0.435},{"t":8456.68,"f":0.470},{"t":8456.72,"f":0.410},{"t":8456.78,"f":0.450},{"t":8456.82,"f":0.385},{"t":8456.88,"f":0.425},{"t":8456.92,"f":0.460},{"t":8456.98,"f":0.400},{"t":8457.02,"f":0.440},{"t":8457.08,"f":0.475},{"t":8457.12,"f":0.415},{"t":8457.18,"f":0.455},{"t":8457.22,"f":0.520},{"t":8457.28,"f":0.430},{"t":8457.32,"f":0.390},{"t":8457.38,"f":0.425},{"t":8457.42,"f":0.365},{"t":8457.48,"f":0.405},{"t":8457.52,"f":0.440},{"t":8457.58,"f":0.380},{"t":8457.62,"f":0.345},{"t":8457.68,"f":0.395},{"t":8457.72,"f":0.355},{"t":8457.78,"f":0.320},{"t":8457.82,"f":0.370},{"t":8457.88,"f":0.335},{"t":8457.92,"f":0.300},{"t":8457.98,"f":0.350},{"t":8458.02,"f":0.315},{"t":8458.08,"f":0.365},{"t":8458.12,"f":0.330},{"t":8458.18,"f":0.295},{"t":8458.22,"f":0.345},{"t":8458.28,"f":0.310},{"t":8458.32,"f":0.360},{"t":8458.38,"f":0.320},{"t":8458.42,"f":0.285},{"t":8458.48,"f":0.335},{"t":8458.52,"f":0.300},{"t":8458.58,"f":0.350},{"t":8458.62,"f":0.310},{"t":8458.68,"f":0.275},{"t":8458.72,"f":0.325},{"t":8458.78,"f":0.290},{"t":8458.82,"f":0.340},{"t":8458.88,"f":0.300},{"t":8458.92,"f":0.260},{"t":8458.98,"f":0.315},{"t":8459.02,"f":0.350},{"t":8459.08,"f":0.300},{"t":8459.12,"f":0.340},{"t":8459.18,"f":0.375},{"t":8459.22,"f":0.325},{"t":8459.28,"f":0.365},{"t":8459.32,"f":0.400},{"t":8459.38,"f":0.345},{"t":8459.42,"f":0.385},{"t":8459.48,"f":0.420},{"t":8459.52,"f":0.360},{"t":8459.58,"f":0.400},{"t":8459.62,"f":0.440},{"t":8459.68,"f":0.380},{"t":8459.72,"f":0.420},{"t":8459.78,"f":0.455},{"t":8459.82,"f":0.400},{"t":8459.88,"f":0.440},{"t":8459.92,"f":0.475},{"t":8459.98,"f":0.430},{"t":8460.02,"f":0.490},{"t":8460.08,"f":0.530},{"t":8460.12,"f":0.570},{"t":8460.18,"f":0.610},{"t":8460.22,"f":0.645},{"t":8460.28,"f":0.680},{"t":8460.32,"f":0.710},{"t":8460.38,"f":0.745},{"t":8460.42,"f":0.790},{"t":8460.48,"f":0.725},{"t":8460.52,"f":0.760},{"t":8460.58,"f":0.700},{"t":8460.62,"f":0.740},{"t":8460.68,"f":0.680},{"t":8460.72,"f":0.720},{"t":8460.78,"f":0.755},{"t":8460.82,"f":0.695},{"t":8460.88,"f":0.735},{"t":8460.92,"f":0.670},{"t":8460.98,"f":0.710},{"t":8461.02,"f":0.750},{"t":8461.08,"f":0.690},{"t":8461.12,"f":0.730},{"t":8461.18,"f":0.665},{"t":8461.22,"f":0.705},{"t":8461.28,"f":0.745},{"t":8461.32,"f":0.685},{"t":8461.38,"f":0.725},{"t":8461.42,"f":0.660},{"t":8461.48,"f":0.700},{"t":8461.52,"f":0.740},{"t":8461.58,"f":0.690},{"t":8461.62,"f":0.735},{"t":8461.68,"f":0.775},{"t":8461.72,"f":0.715},{"t":8461.78,"f":0.760},{"t":8461.82,"f":0.800},{"t":8461.88,"f":0.745},{"t":8461.92,"f":0.790},{"t":8461.98,"f":0.830},{"t":8462.02,"f":0.775},{"t":8462.08,"f":0.820},{"t":8462.12,"f":0.860},{"t":8462.18,"f":0.800},{"t":8462.22,"f":0.845},{"t":8462.28,"f":0.880},{"t":8462.32,"f":0.820},{"t":8462.38,"f":0.865},{"t":8462.42,"f":0.805},{"t":8462.48,"f":0.850},{"t":8462.52,"f":0.885},{"t":8462.58,"f":0.825},{"t":8462.62,"f":0.870},{"t":8462.68,"f":0.810},{"t":8462.72,"f":0.855},{"t":8462.78,"f":0.895},{"t":8462.82,"f":0.835},{"t":8462.88,"f":0.875},{"t":8462.92,"f":0.815},{"t":8462.98,"f":0.860},{"t":8463.02,"f":0.900},{"t":8463.08,"f":0.845},{"t":8463.12,"f":0.885},{"t":8463.18,"f":0.830},{"t":8463.22,"f":0.870},{"t":8463.28,"f":0.910},{"t":8463.32,"f":0.855},{"t":8463.38,"f":0.895},{"t":8463.42,"f":0.935},{"t":8463.48,"f":0.880},{"t":8463.52,"f":0.955},{"t":8463.58,"f":0.985},{"t":8463.62,"f":0.940},{"t":8463.68,"f":0.900},{"t":8463.72,"f":0.860},{"t":8463.78,"f":0.830},{"t":8463.82,"f":0.800},{"t":8463.88,"f":0.780},{"t":8463.92,"f":0.745},{"t":8463.98,"f":0.705},{"t":8464.02,"f":0.670},
{"t":8386.02,"f":0.040},{"t":8386.15,"f":-0.025},{"t":8386.28,"f":0.010},{"t":8386.42,"f":0.060},{"t":8386.55,"f":-0.015},{"t":8386.68,"f":0.005},{"t":8386.82,"f":-0.030},{"t":8386.95,"f":0.025},{"t":8387.08,"f":-0.050},{"t":8387.22,"f":0.000},{"t":8387.35,"f":-0.070},{"t":8387.48,"f":-0.015},{"t":8387.62,"f":-0.040},{"t":8387.75,"f":-0.020},{"t":8387.88,"f":-0.075},{"t":8388.02,"f":-0.110},{"t":8388.15,"f":-0.060},{"t":8388.28,"f":-0.130},{"t":8388.42,"f":-0.165},{"t":8388.55,"f":-0.080},{"t":8388.68,"f":-0.155},{"t":8388.82,"f":-0.130},{"t":8388.95,"f":-0.180},{"t":8389.08,"f":-0.095},{"t":8389.22,"f":-0.160},{"t":8389.35,"f":-0.120},{"t":8389.48,"f":-0.145},{"t":8389.62,"f":-0.170},{"t":8389.75,"f":-0.095},{"t":8389.88,"f":-0.150},{"t":8390.02,"f":-0.085},{"t":8390.15,"f":-0.110},{"t":8390.28,"f":-0.030},{"t":8390.42,"f":0.010},{"t":8390.55,"f":-0.010},{"t":8390.68,"f":0.060},{"t":8390.82,"f":0.110},{"t":8390.95,"f":0.105},{"t":8391.08,"f":0.185},{"t":8391.15,"f":0.155},{"t":8391.25,"f":0.230},{"t":8391.35,"f":0.195},{"t":8391.45,"f":0.265},{"t":8391.55,"f":0.230},{"t":8391.65,"f":0.290},{"t":8391.75,"f":0.210},{"t":8391.85,"f":0.255},{"t":8391.95,"f":0.275},{"t":8392.02,"f":0.225},{"t":8392.15,"f":0.205},{"t":8392.28,"f":0.145},{"t":8392.42,"f":0.120},{"t":8392.55,"f":0.150},{"t":8392.68,"f":0.100},{"t":8392.82,"f":0.070},{"t":8392.95,"f":0.120},{"t":8393.08,"f":0.060},{"t":8393.22,"f":0.110},{"t":8393.35,"f":0.080},{"t":8393.48,"f":0.045},{"t":8393.62,"f":0.085},{"t":8393.75,"f":0.130},{"t":8393.88,"f":0.060},{"t":8394.02,"f":0.095},{"t":8394.15,"f":0.040},{"t":8394.28,"f":0.070},{"t":8394.42,"f":0.010},{"t":8394.55,"f":0.050},{"t":8394.68,"f":0.095},{"t":8394.82,"f":0.035},{"t":8394.95,"f":0.005},{"t":8395.08,"f":0.030},{"t":8395.22,"f":-0.015},{"t":8395.35,"f":-0.095},{"t":8395.48,"f":-0.160},{"t":8395.62,"f":-0.130},{"t":8395.75,"f":-0.215},{"t":8395.88,"f":-0.160},{"t":8396.02,"f":-0.235},{"t":8396.15,"f":-0.205},{"t":8396.28,"f":-0.120},{"t":8396.42,"f":-0.085},{"t":8396.55,"f":-0.065},{"t":8396.68,"f":-0.050},{"t":8396.82,"f":-0.075},{"t":8396.95,"f":-0.005},{"t":8397.08,"f":-0.050},{"t":8397.22,"f":-0.080},{"t":8397.35,"f":-0.040},{"t":8397.48,"f":-0.005},{"t":8397.62,"f":-0.025},{"t":8397.75,"f":0.010},{"t":8397.88,"f":0.045},{"t":8398.02,"f":0.070},{"t":8398.15,"f":0.030},{"t":8398.28,"f":0.050},{"t":8398.42,"f":-0.035},{"t":8398.55,"f":0.025},{"t":8398.68,"f":-0.005},{"t":8398.82,"f":0.030},{"t":8398.95,"f":-0.030},{"t":8399.08,"f":0.045},{"t":8399.22,"f":0.000},{"t":8399.35,"f":0.040},{"t":8399.48,"f":0.060},{"t":8399.62,"f":0.015},{"t":8399.75,"f":0.050},{"t":8399.88,"f":0.075},{"t":8400.02,"f":0.030},{"t":8400.15,"f":0.050},{"t":8400.28,"f":0.005},{"t":8400.42,"f":-0.010},{"t":8400.55,"f":0.020},{"t":8400.68,"f":-0.015},{"t":8400.82,"f":0.040},{"t":8400.95,"f":-0.025},{"t":8401.08,"f":-0.045},{"t":8401.22,"f":0.000},{"t":8401.35,"f":-0.035},{"t":8401.48,"f":0.025},{"t":8401.62,"f":-0.080},{"t":8401.75,"f":0.045},{"t":8401.88,"f":0.005},{"t":8402.02,"f":0.070},{"t":8402.15,"f":0.095},{"t":8402.28,"f":0.055},{"t":8402.42,"f":0.075},{"t":8402.55,"f":0.020},{"t":8402.68,"f":-0.015},{"t":8402.82,"f":-0.100},{"t":8402.95,"f":-0.085},{"t":8403.08,"f":-0.150},{"t":8403.22,"f":-0.160},{"t":8403.35,"f":-0.195},{"t":8403.48,"f":-0.275},{"t":8403.62,"f":-0.260},{"t":8403.75,"f":-0.295},{"t":8403.88,"f":-0.325},{"t":8404.02,"f":-0.340},{"t":8404.15,"f":-0.300},{"t":8404.28,"f":-0.350},{"t":8404.42,"f":-0.320},{"t":8404.55,"f":-0.365},{"t":8404.68,"f":-0.330},{"t":8404.82,"f":-0.360},{"t":8404.95,"f":-0.310},{"t":8405.08,"f":-0.345},{"t":8405.22,"f":-0.305},{"t":8405.35,"f":-0.320},{"t":8405.48,"f":-0.285},{"t":8405.62,"f":-0.345},{"t":8405.75,"f":-0.310},{"t":8405.88,"f":-0.335},{"t":8406.02,"f":-0.355},{"t":8406.15,"f":-0.310},{"t":8406.22,"f":-0.330},
{"t":8411.05,"f":-0.270},{"t":8411.15,"f":-0.315},{"t":8411.25,"f":-0.295},{"t":8411.35,"f":-0.250},{"t":8411.45,"f":-0.340},{"t":8411.55,"f":-0.260},{"t":8411.65,"f":-0.290},{"t":8411.75,"f":-0.320},{"t":8411.85,"f":-0.245},{"t":8411.95,"f":-0.270},{"t":8412.05,"f":-0.225},{"t":8412.15,"f":-0.265},{"t":8412.25,"f":-0.215},{"t":8412.35,"f":-0.200},{"t":8412.45,"f":-0.190},{"t":8412.55,"f":-0.215},{"t":8412.65,"f":-0.245},{"t":8412.75,"f":-0.265},{"t":8412.85,"f":-0.230},{"t":8412.95,"f":-0.290},{"t":8413.05,"f":-0.285},{"t":8413.15,"f":-0.310},{"t":8413.25,"f":-0.250},{"t":8413.35,"f":-0.320},{"t":8413.45,"f":-0.290},{"t":8413.55,"f":-0.260},{"t":8413.65,"f":-0.315},{"t":8413.75,"f":-0.295},{"t":8413.85,"f":-0.340},{"t":8413.95,"f":-0.305},{"t":8414.05,"f":-0.335},{"t":8414.15,"f":-0.300},{"t":8414.25,"f":-0.365},{"t":8414.35,"f":-0.340},{"t":8414.45,"f":-0.380},{"t":8414.55,"f":-0.320},{"t":8414.65,"f":-0.390},{"t":8414.75,"f":-0.355},{"t":8414.85,"f":-0.410},{"t":8414.95,"f":-0.370},{"t":8415.05,"f":-0.395},{"t":8415.15,"f":-0.440},{"t":8415.25,"f":-0.370},{"t":8415.35,"f":-0.410},{"t":8415.45,"f":-0.385},{"t":8415.55,"f":-0.430},{"t":8415.65,"f":-0.375},{"t":8415.75,"f":-0.400},{"t":8415.85,"f":-0.360},{"t":8415.95,"f":-0.425},{"t":8416.05,"f":-0.380},{"t":8416.15,"f":-0.405},{"t":8416.25,"f":-0.365},{"t":8416.35,"f":-0.380},{"t":8416.45,"f":-0.410},{"t":8416.55,"f":-0.370},{"t":8416.65,"f":-0.395},{"t":8416.75,"f":-0.380},{"t":8416.85,"f":-0.420},{"t":8416.95,"f":-0.385},{"t":8417.05,"f":-0.405},{"t":8417.15,"f":-0.420},{"t":8417.25,"f":-0.395},{"t":8417.35,"f":-0.435},{"t":8417.45,"f":-0.415},{"t":8417.55,"f":-0.450},{"t":8417.65,"f":-0.400},{"t":8417.75,"f":-0.415},{"t":8417.85,"f":-0.400},{"t":8417.95,"f":-0.425},{"t":8418.05,"f":-0.435},{"t":8418.15,"f":-0.405},{"t":8418.25,"f":-0.430},{"t":8418.35,"f":-0.445},{"t":8418.45,"f":-0.400},
{"t":8424.65,"f":-0.355},{"t":8424.75,"f":-0.380},{"t":8424.85,"f":-0.340},{"t":8424.95,"f":-0.375},{"t":8425.05,"f":-0.350},{"t":8425.15,"f":-0.395},{"t":8425.25,"f":-0.360},{"t":8425.35,"f":-0.330},{"t":8425.45,"f":-0.385},{"t":8425.55,"f":-0.370},{"t":8425.65,"f":-0.345},{"t":8425.75,"f":-0.395},{"t":8425.85,"f":-0.370},{"t":8425.95,"f":-0.420},{"t":8426.05,"f":-0.395},{"t":8426.15,"f":-0.425},{"t":8426.25,"f":-0.405},{"t":8426.35,"f":-0.435},{"t":8426.45,"f":-0.400},{"t":8426.55,"f":-0.445},{"t":8426.65,"f":-0.420},{"t":8426.75,"f":-0.460},{"t":8426.85,"f":-0.435},{"t":8426.95,"f":-0.470},{"t":8427.05,"f":-0.425},{"t":8427.15,"f":-0.440},{"t":8427.25,"f":-0.400},{"t":8427.35,"f":-0.395},{"t":8427.45,"f":-0.370},{"t":8427.55,"f":-0.360},{"t":8427.65,"f":-0.340},{"t":8427.75,"f":-0.330},{"t":8427.85,"f":-0.325},{"t":8427.95,"f":-0.345},{"t":8428.05,"f":-0.315},{"t":8428.15,"f":-0.330},{"t":8428.25,"f":-0.290},{"t":8428.35,"f":-0.320},{"t":8428.45,"f":-0.295},{"t":8428.55,"f":-0.280},{"t":8428.65,"f":-0.310},{"t":8428.75,"f":-0.270},{"t":8428.85,"f":-0.285},{"t":8428.95,"f":-0.260},{"t":8429.05,"f":-0.270},{"t":8429.15,"f":-0.245},{"t":8429.25,"f":-0.260},{"t":8429.35,"f":-0.240},{"t":8429.45,"f":-0.220},{"t":8429.55,"f":-0.235},{"t":8429.65,"f":-0.210},{"t":8429.75,"f":-0.245},{"t":8429.85,"f":-0.215},{"t":8429.95,"f":-0.240},{"t":8430.05,"f":-0.225},{"t":8430.15,"f":-0.195},{"t":8430.25,"f":-0.240},{"t":8430.35,"f":-0.210},{"t":8430.45,"f":-0.245},{"t":8430.55,"f":-0.265},{"t":8430.65,"f":-0.285},{"t":8430.75,"f":-0.230},{"t":8430.85,"f":-0.265},{"t":8430.95,"f":-0.250},{"t":8431.05,"f":-0.230},{"t":8431.15,"f":-0.210},{"t":8431.25,"f":-0.195},{"t":8431.35,"f":-0.235},{"t":8431.45,"f":-0.210},{"t":8431.55,"f":-0.195},{"t":8431.65,"f":-0.170},{"t":8431.75,"f":-0.190},{"t":8431.85,"f":-0.205},{"t":8431.95,"f":-0.220},{"t":8432.05,"f":-0.185},{"t":8432.15,"f":-0.200},{"t":8432.25,"f":-0.220},{"t":8432.35,"f":-0.190},{"t":8432.45,"f":-0.240},{"t":8432.55,"f":-0.205},{"t":8432.65,"f":-0.230},{"t":8432.75,"f":-0.250},{"t":8432.85,"f":-0.235},{"t":8432.95,"f":-0.255},{"t":8433.05,"f":-0.265},{"t":8433.15,"f":-0.240},{"t":8433.25,"f":-0.280},{"t":8433.35,"f":-0.260},{"t":8433.45,"f":-0.300},{"t":8433.55,"f":-0.275},{"t":8433.65,"f":-0.310},{"t":8433.75,"f":-0.290},{"t":8433.85,"f":-0.300},{"t":8433.95,"f":-0.320},{"t":8434.05,"f":-0.295},{"t":8434.15,"f":-0.315},{"t":8434.25,"f":-0.340},{"t":8434.35,"f":-0.320},{"t":8434.45,"f":-0.350},{"t":8434.55,"f":-0.370},{"t":8434.65,"f":-0.345},{"t":8434.75,"f":-0.375},{"t":8434.85,"f":-0.395},{"t":8434.95,"f":-0.410},{"t":8435.05,"f":-0.430},{"t":8435.15,"f":-0.395},{"t":8435.25,"f":-0.420},{"t":8435.35,"f":-0.440},{"t":8435.45,"f":-0.395},{"t":8435.55,"f":-0.365},{"t":8435.65,"f":-0.380},{"t":8435.75,"f":-0.320},{"t":8435.85,"f":-0.295},{"t":8435.95,"f":-0.330},{"t":8436.05,"f":-0.355},{"t":8436.15,"f":-0.310},{"t":8436.25,"f":-0.345},{"t":8436.35,"f":-0.300},
{"t":8437.97,"f":-0.365},{"t":8438.05,"f":-0.355},{"t":8438.15,"f":-0.385},{"t":8438.25,"f":-0.340},{"t":8438.35,"f":-0.315},{"t":8438.45,"f":-0.345},{"t":8438.55,"f":-0.310},{"t":8438.65,"f":-0.285},{"t":8438.75,"f":-0.300},{"t":8438.85,"f":-0.265},{"t":8438.95,"f":-0.250},{"t":8439.05,"f":-0.265},{"t":8439.15,"f":-0.230},{"t":8439.25,"f":-0.265},{"t":8439.35,"f":-0.285},{"t":8439.45,"f":-0.300},{"t":8439.55,"f":-0.330},{"t":8439.65,"f":-0.345},{"t":8439.75,"f":-0.360},{"t":8439.85,"f":-0.340},{"t":8439.95,"f":-0.365},{"t":8440.05,"f":-0.375},{"t":8440.15,"f":-0.345},{"t":8440.25,"f":-0.365},{"t":8440.35,"f":-0.335},{"t":8440.45,"f":-0.310},{"t":8440.55,"f":-0.325},{"t":8440.65,"f":-0.290},{"t":8440.75,"f":-0.300},{"t":8440.85,"f":-0.275},{"t":8440.95,"f":-0.250},{"t":8441.05,"f":-0.225},{"t":8441.15,"f":-0.230},{"t":8441.25,"f":-0.190},{"t":8441.35,"f":-0.160},{"t":8441.45,"f":-0.145},{"t":8441.55,"f":-0.115},{"t":8441.65,"f":-0.100},{"t":8441.75,"f":-0.080},{"t":8441.85,"f":-0.100},{"t":8441.95,"f":-0.085},{"t":8442.05,"f":-0.105},{"t":8442.15,"f":-0.125},{"t":8442.25,"f":-0.110},{"t":8442.35,"f":-0.130},{"t":8442.45,"f":-0.115},{"t":8442.55,"f":-0.140},{"t":8442.65,"f":-0.125},{"t":8442.75,"f":-0.150},{"t":8442.85,"f":-0.130},{"t":8442.95,"f":-0.150},{"t":8443.05,"f":-0.135},{"t":8443.15,"f":-0.155},{"t":8443.25,"f":-0.130},{"t":8443.35,"f":-0.115},{"t":8443.45,"f":-0.100},{"t":8443.55,"f":-0.075},{"t":8443.65,"f":-0.060},{"t":8443.75,"f":-0.040},{"t":8443.85,"f":-0.020},{"t":8443.95,"f":0.010},{"t":8444.05,"f":0.030},{"t":8444.15,"f":0.055},{"t":8444.25,"f":0.075},{"t":8444.35,"f":0.095},{"t":8444.45,"f":0.110},{"t":8444.55,"f":0.120},{"t":8444.65,"f":0.135},{"t":8444.75,"f":0.120},{"t":8444.85,"f":0.140},{"t":8444.95,"f":0.125},{"t":8445.05,"f":0.150},{"t":8445.15,"f":0.135},{"t":8445.25,"f":0.160},{"t":8445.35,"f":0.170},{"t":8445.45,"f":0.155},{"t":8445.55,"f":0.185},{"t":8445.65,"f":0.200},{"t":8445.75,"f":0.190},{"t":8445.85,"f":0.210},{"t":8445.95,"f":0.200},{"t":8446.05,"f":0.215},{"t":8446.15,"f":0.200},{"t":8446.25,"f":0.220},{"t":8446.35,"f":0.205},{"t":8446.45,"f":0.180},{"t":8446.55,"f":0.160},{"t":8446.65,"f":0.180},{"t":8446.75,"f":0.205},{"t":8446.85,"f":0.225},{"t":8446.95,"f":0.245},{"t":8447.05,"f":0.260},{"t":8447.15,"f":0.275},{"t":8447.25,"f":0.255},{"t":8447.35,"f":0.230},{"t":8447.45,"f":0.220},{"t":8447.55,"f":0.200},{"t":8447.65,"f":0.185},{"t":8447.75,"f":0.170},{"t":8447.85,"f":0.160},{"t":8447.95,"f":0.175},{"t":8448.05,"f":0.160},{"t":8448.15,"f":0.180},{"t":8448.25,"f":0.160},{"t":8448.35,"f":0.175},{"t":8448.45,"f":0.165},{"t":8448.55,"f":0.185},{"t":8448.65,"f":0.170},{"t":8448.75,"f":0.190},{"t":8448.85,"f":0.180},{"t":8448.95,"f":0.200},{"t":8449.05,"f":0.190},{"t":8449.15,"f":0.210},{"t":8449.25,"f":0.200},{"t":8449.35,"f":0.225},{"t":8449.45,"f":0.215},{"t":8449.55,"f":0.240},{"t":8449.65,"f":0.230},{"t":8449.75,"f":0.250},{"t":8449.85,"f":0.240},{"t":8449.95,"f":0.265},{"t":8450.05,"f":0.255},{"t":8450.15,"f":0.285},
{"t":8451.67,"f":0.335},{"t":8451.72,"f":0.370},{"t":8451.85,"f":0.385},{"t":8451.95,"f":0.415},{"t":8452.05,"f":0.440},{"t":8452.15,"f":0.425},{"t":8452.25,"f":0.455},{"t":8452.35,"f":0.480},{"t":8452.45,"f":0.470},{"t":8452.55,"f":0.505},{"t":8452.65,"f":0.530},{"t":8452.75,"f":0.525},{"t":8452.85,"f":0.555},{"t":8452.95,"f":0.580},{"t":8453.05,"f":0.600},{"t":8453.15,"f":0.600},{"t":8453.25,"f":0.635},{"t":8453.35,"f":0.615},{"t":8453.45,"f":0.595},{"t":8453.55,"f":0.610},{"t":8453.65,"f":0.585},{"t":8453.75,"f":0.565},{"t":8453.85,"f":0.575},{"t":8453.95,"f":0.545},{"t":8454.05,"f":0.525},{"t":8454.15,"f":0.530},{"t":8454.25,"f":0.500},{"t":8454.35,"f":0.475},{"t":8454.45,"f":0.480},{"t":8454.55,"f":0.445},{"t":8454.65,"f":0.430},{"t":8454.75,"f":0.440},{"t":8454.85,"f":0.415},{"t":8454.95,"f":0.395},{"t":8455.05,"f":0.405},{"t":8455.15,"f":0.385},{"t":8455.25,"f":0.425},{"t":8455.35,"f":0.420},{"t":8455.45,"f":0.440},{"t":8455.55,"f":0.425},{"t":8455.65,"f":0.450},{"t":8455.75,"f":0.470},{"t":8455.85,"f":0.445},{"t":8455.95,"f":0.470},{"t":8456.05,"f":0.455},{"t":8456.15,"f":0.440},{"t":8456.25,"f":0.460},{"t":8456.35,"f":0.430},{"t":8456.45,"f":0.450},{"t":8456.55,"f":0.435},{"t":8456.65,"f":0.415},{"t":8456.75,"f":0.440},{"t":8456.85,"f":0.420},{"t":8456.95,"f":0.445},{"t":8457.05,"f":0.425},{"t":8457.15,"f":0.440},{"t":8457.25,"f":0.415},{"t":8457.35,"f":0.405},{"t":8457.45,"f":0.385},{"t":8457.55,"f":0.410},{"t":8457.65,"f":0.375},{"t":8457.75,"f":0.385},{"t":8457.85,"f":0.350},{"t":8457.95,"f":0.370},{"t":8458.05,"f":0.340},{"t":8458.15,"f":0.355},{"t":8458.25,"f":0.325},{"t":8458.35,"f":0.340},{"t":8458.45,"f":0.310},{"t":8458.55,"f":0.325},{"t":8458.65,"f":0.295},{"t":8458.75,"f":0.310},{"t":8458.85,"f":0.320},{"t":8458.95,"f":0.290},{"t":8459.05,"f":0.325},{"t":8459.15,"f":0.350},{"t":8459.25,"f":0.345},{"t":8459.35,"f":0.375},{"t":8459.45,"f":0.395},{"t":8459.55,"f":0.385},{"t":8459.65,"f":0.410},{"t":8459.75,"f":0.435},{"t":8459.85,"f":0.420},{"t":8459.95,"f":0.455},{"t":8460.05,"f":0.510},{"t":8460.15,"f":0.590},{"t":8460.25,"f":0.665},{"t":8460.35,"f":0.730},{"t":8460.45,"f":0.740},{"t":8460.55,"f":0.720},{"t":8460.65,"f":0.705},{"t":8460.75,"f":0.735},{"t":8460.85,"f":0.715},{"t":8460.95,"f":0.690},{"t":8461.05,"f":0.720},{"t":8461.15,"f":0.700},{"t":8461.25,"f":0.725},{"t":8461.35,"f":0.705},{"t":8461.45,"f":0.690},{"t":8461.55,"f":0.715},{"t":8461.65,"f":0.755},{"t":8461.75,"f":0.740},{"t":8461.85,"f":0.775},{"t":8461.95,"f":0.805},{"t":8462.05,"f":0.800},{"t":8462.15,"f":0.830},{"t":8462.25,"f":0.825},{"t":8462.35,"f":0.850},{"t":8462.45,"f":0.830},{"t":8462.55,"f":0.855},{"t":8462.65,"f":0.840},{"t":8462.75,"f":0.870},{"t":8462.85,"f":0.850},{"t":8462.95,"f":0.880},{"t":8463.05,"f":0.860},{"t":8463.15,"f":0.875},{"t":8463.25,"f":0.885},{"t":8463.35,"f":0.870},{"t":8463.45,"f":0.910},{"t":8463.55,"f":0.925},{"t":8463.65,"f":0.920},{"t":8463.75,"f":0.880},{"t":8463.85,"f":0.815},
{"t":8386.10,"f":0.055},{"t":8386.35,"f":-0.045},{"t":8386.60,"f":0.065},{"t":8386.88,"f":-0.050},{"t":8387.15,"f":0.035},{"t":8387.40,"f":-0.075},{"t":8387.70,"f":-0.005},{"t":8388.00,"f":-0.130},{"t":8388.25,"f":-0.045},{"t":8388.50,"f":-0.170},{"t":8388.75,"f":-0.085},{"t":8389.00,"f":-0.190},{"t":8389.28,"f":-0.075},{"t":8389.55,"f":-0.175},{"t":8389.80,"f":-0.080},{"t":8390.08,"f":-0.140},{"t":8390.35,"f":-0.070},{"t":8390.62,"f":0.060},{"t":8390.88,"f":0.140},{"t":8391.10,"f":0.230},{"t":8391.40,"f":0.285},{"t":8391.70,"f":0.205},{"t":8392.00,"f":0.280},{"t":8392.20,"f":0.170},{"t":8392.48,"f":0.175},{"t":8392.75,"f":0.050},{"t":8393.00,"f":0.125},{"t":8393.28,"f":0.020},{"t":8393.55,"f":0.140},{"t":8393.82,"f":0.010},{"t":8394.10,"f":0.115},{"t":8394.35,"f":-0.020},{"t":8394.62,"f":0.100},{"t":8394.88,"f":0.065},{"t":8395.15,"f":-0.040},{"t":8395.40,"f":-0.070},{"t":8395.70,"f":-0.220},{"t":8395.95,"f":-0.145},{"t":8396.20,"f":-0.230},{"t":8396.48,"f":-0.030},{"t":8396.75,"f":-0.095},{"t":8397.00,"f":0.025},{"t":8397.28,"f":-0.090},{"t":8397.55,"f":0.030},{"t":8397.80,"f":-0.045},{"t":8398.08,"f":0.095},{"t":8398.35,"f":-0.055},{"t":8398.62,"f":0.060},{"t":8398.90,"f":-0.060},{"t":8399.15,"f":0.085},{"t":8399.42,"f":-0.020},{"t":8399.70,"f":0.090},{"t":8399.95,"f":-0.020},{"t":8400.22,"f":0.075},{"t":8400.48,"f":-0.060},{"t":8400.75,"f":0.050},{"t":8401.00,"f":-0.080},{"t":8401.28,"f":0.045},{"t":8401.55,"f":-0.100},{"t":8401.80,"f":0.100},{"t":8402.08,"f":0.030},{"t":8402.35,"f":0.110},{"t":8402.62,"f":-0.030},{"t":8402.90,"f":-0.070},{"t":8403.15,"f":-0.130},{"t":8403.42,"f":-0.225},{"t":8403.70,"f":-0.330},{"t":8403.95,"f":-0.285},{"t":8404.22,"f":-0.365},{"t":8404.48,"f":-0.295},{"t":8404.75,"f":-0.370},{"t":8405.02,"f":-0.320},{"t":8405.28,"f":-0.365},{"t":8405.55,"f":-0.275},{"t":8405.82,"f":-0.365},{"t":8406.08,"f":-0.290},
{"t":8411.00,"f":-0.380},{"t":8411.20,"f":-0.230},{"t":8411.40,"f":-0.360},{"t":8411.60,"f":-0.225},{"t":8411.80,"f":-0.340},{"t":8412.00,"f":-0.200},{"t":8412.20,"f":-0.300},{"t":8412.40,"f":-0.165},{"t":8412.60,"f":-0.270},{"t":8412.80,"f":-0.210},{"t":8413.00,"f":-0.330},{"t":8413.20,"f":-0.235},{"t":8413.40,"f":-0.360},{"t":8413.60,"f":-0.245},{"t":8413.80,"f":-0.370},{"t":8414.00,"f":-0.280},{"t":8414.20,"f":-0.420},{"t":8414.40,"f":-0.295},{"t":8414.60,"f":-0.440},{"t":8414.80,"f":-0.320},{"t":8415.00,"f":-0.460},{"t":8415.20,"f":-0.330},{"t":8415.40,"f":-0.475},{"t":8415.60,"f":-0.340},{"t":8415.80,"f":-0.465},{"t":8416.00,"f":-0.320},{"t":8416.20,"f":-0.440},{"t":8416.40,"f":-0.330},{"t":8416.60,"f":-0.455},{"t":8416.80,"f":-0.335},{"t":8417.00,"f":-0.460},{"t":8417.20,"f":-0.345},{"t":8417.40,"f":-0.470},{"t":8417.60,"f":-0.350},{"t":8417.80,"f":-0.465},{"t":8418.00,"f":-0.360},{"t":8418.20,"f":-0.470},{"t":8418.40,"f":-0.370},
{"t":8424.60,"f":-0.420},{"t":8424.80,"f":-0.305},{"t":8425.00,"f":-0.440},{"t":8425.20,"f":-0.300},{"t":8425.40,"f":-0.430},{"t":8425.60,"f":-0.320},{"t":8425.80,"f":-0.450},{"t":8426.00,"f":-0.340},{"t":8426.20,"f":-0.475},{"t":8426.40,"f":-0.355},{"t":8426.60,"f":-0.495},{"t":8426.80,"f":-0.370},{"t":8427.00,"f":-0.485},{"t":8427.20,"f":-0.345},{"t":8427.40,"f":-0.440},{"t":8427.60,"f":-0.290},{"t":8427.80,"f":-0.390},{"t":8428.00,"f":-0.260},{"t":8428.20,"f":-0.365},{"t":8428.40,"f":-0.240},{"t":8428.60,"f":-0.345},{"t":8428.80,"f":-0.215},{"t":8429.00,"f":-0.330},{"t":8429.20,"f":-0.190},{"t":8429.40,"f":-0.300},{"t":8429.60,"f":-0.170},{"t":8429.80,"f":-0.290},{"t":8430.00,"f":-0.160},{"t":8430.20,"f":-0.290},{"t":8430.40,"f":-0.180},{"t":8430.60,"f":-0.330},{"t":8430.80,"f":-0.210},{"t":8431.00,"f":-0.305},{"t":8431.20,"f":-0.150},{"t":8431.40,"f":-0.275},{"t":8431.60,"f":-0.140},{"t":8431.80,"f":-0.270},{"t":8432.00,"f":-0.150},{"t":8432.20,"f":-0.285},{"t":8432.40,"f":-0.165},{"t":8432.60,"f":-0.300},{"t":8432.80,"f":-0.170},{"t":8433.00,"f":-0.320},{"t":8433.20,"f":-0.200},{"t":8433.40,"f":-0.370},{"t":8433.60,"f":-0.220},{"t":8433.80,"f":-0.380},{"t":8434.00,"f":-0.230},{"t":8434.20,"f":-0.395},{"t":8434.40,"f":-0.260},{"t":8434.60,"f":-0.440},{"t":8434.80,"f":-0.290},{"t":8435.00,"f":-0.475},{"t":8435.20,"f":-0.330},{"t":8435.40,"f":-0.455},{"t":8435.60,"f":-0.280},{"t":8435.80,"f":-0.400},{"t":8436.00,"f":-0.265},{"t":8436.20,"f":-0.400},{"t":8436.40,"f":-0.280},
{"t":8438.00,"f":-0.300},{"t":8438.20,"f":-0.415},{"t":8438.40,"f":-0.260},{"t":8438.60,"f":-0.380},{"t":8438.80,"f":-0.215},{"t":8439.00,"f":-0.330},{"t":8439.20,"f":-0.205},{"t":8439.40,"f":-0.345},{"t":8439.60,"f":-0.280},{"t":8439.80,"f":-0.415},{"t":8440.00,"f":-0.300},{"t":8440.20,"f":-0.410},{"t":8440.40,"f":-0.280},{"t":8440.60,"f":-0.360},{"t":8440.80,"f":-0.220},{"t":8441.00,"f":-0.300},{"t":8441.20,"f":-0.150},{"t":8441.40,"f":-0.200},{"t":8441.60,"f":-0.060},{"t":8441.80,"f":-0.145},{"t":8442.00,"f":-0.050},{"t":8442.20,"f":-0.170},{"t":8442.40,"f":-0.065},{"t":8442.60,"f":-0.185},{"t":8442.80,"f":-0.080},{"t":8443.00,"f":-0.195},{"t":8443.20,"f":-0.085},{"t":8443.40,"f":-0.160},{"t":8443.60,"f":-0.020},{"t":8443.80,"f":-0.080},{"t":8444.00,"f":0.070},{"t":8444.20,"f":0.010},{"t":8444.40,"f":0.150},{"t":8444.60,"f":0.060},{"t":8444.80,"f":0.180},{"t":8445.00,"f":0.090},{"t":8445.20,"f":0.195},{"t":8445.40,"f":0.120},{"t":8445.60,"f":0.235},{"t":8445.80,"f":0.150},{"t":8446.00,"f":0.260},{"t":8446.20,"f":0.165},{"t":8446.40,"f":0.240},{"t":8446.60,"f":0.120},{"t":8446.80,"f":0.250},{"t":8447.00,"f":0.195},{"t":8447.20,"f":0.300},{"t":8447.40,"f":0.180},{"t":8447.60,"f":0.240},{"t":8447.80,"f":0.125},{"t":8448.00,"f":0.220},{"t":8448.20,"f":0.120},{"t":8448.40,"f":0.225},{"t":8448.60,"f":0.130},{"t":8448.80,"f":0.240},{"t":8449.00,"f":0.150},{"t":8449.20,"f":0.260},{"t":8449.40,"f":0.170},{"t":8449.60,"f":0.285},{"t":8449.80,"f":0.195},{"t":8450.00,"f":0.310},{"t":8450.20,"f":0.230},
{"t":8451.80,"f":0.420},{"t":8452.00,"f":0.390},{"t":8452.20,"f":0.490},{"t":8452.40,"f":0.440},{"t":8452.60,"f":0.555},{"t":8452.80,"f":0.505},{"t":8453.00,"f":0.625},{"t":8453.20,"f":0.575},{"t":8453.40,"f":0.645},{"t":8453.60,"f":0.540},{"t":8453.80,"f":0.600},{"t":8454.00,"f":0.480},{"t":8454.20,"f":0.545},{"t":8454.40,"f":0.430},{"t":8454.60,"f":0.480},{"t":8454.80,"f":0.370},{"t":8455.00,"f":0.430},{"t":8455.20,"f":0.360},{"t":8455.40,"f":0.465},{"t":8455.60,"f":0.395},{"t":8455.80,"f":0.505},{"t":8456.00,"f":0.410},{"t":8456.20,"f":0.500},{"t":8456.40,"f":0.395},{"t":8456.60,"f":0.480},{"t":8456.80,"f":0.380},{"t":8457.00,"f":0.475},{"t":8457.20,"f":0.390},{"t":8457.40,"f":0.445},{"t":8457.60,"f":0.335},{"t":8457.80,"f":0.395},{"t":8458.00,"f":0.290},{"t":8458.20,"f":0.375},{"t":8458.40,"f":0.270},{"t":8458.60,"f":0.360},{"t":8458.80,"f":0.255},{"t":8459.00,"f":0.290},{"t":8459.20,"f":0.395},{"t":8459.40,"f":0.330},{"t":8459.60,"f":0.460},{"t":8459.80,"f":0.370},{"t":8460.10,"f":0.545},{"t":8460.30,"f":0.700},{"t":8460.50,"f":0.770},{"t":8460.70,"f":0.665},{"t":8460.90,"f":0.760},{"t":8461.10,"f":0.660},{"t":8461.30,"f":0.760},{"t":8461.50,"f":0.665},{"t":8461.70,"f":0.790},{"t":8461.90,"f":0.760},{"t":8462.10,"f":0.880},{"t":8462.30,"f":0.790},{"t":8462.50,"f":0.905},{"t":8462.70,"f":0.800},{"t":8462.90,"f":0.900},{"t":8463.10,"f":0.820},{"t":8463.30,"f":0.925},{"t":8463.50,"f":0.850},{"t":8463.70,"f":0.965}
]},
"encoding": {
  "x": {"field": "t", "type": "quantitative",
    "scale": {"domain": [8382.03, 8465.51], "nice": false, "zero": false},
    "axis": {"values": [8390, 8400, 8410, 8420, 8430, 8440, 8450, 8460], "format": "d", "grid": false, "domain": false,
      "tickSize": -16, "tickWidth": 2, "tickColor": "black",
      "labelFont": "DejaVu Sans", "labelFontWeight": "bold", "labelFontSize": 38, "labelColor": "black", "labelPadding": 16,
      "title": "Date (JD-2457000)", "titleFont": "DejaVu Sans", "titleFontWeight": "normal", "titleFontSize": 39, "titleColor": "black", "titlePadding": 4, "titleX": 620}},
  "y": {"field": "f", "type": "quantitative",
    "scale": {"domain": [-0.582, 1.073], "nice": false, "zero": false},
    "axis": {"values": [-0.5, -0.25, 0, 0.25, 0.5, 0.75, 1.0], "format": ".2f", "grid": false, "domain": false,
      "tickSize": -16, "tickWidth": 2, "tickColor": "black",
      "labelFont": "DejaVu Sans", "labelFontWeight": "bold", "labelFontSize": 38, "labelColor": "black", "labelPadding": 21,
      "title": "Flux [10⁻¹¹ ergs/s/cm²]", "titleFont": "DejaVu Sans", "titleFontWeight": "normal", "titleFontSize": 39, "titleColor": "black", "titlePadding": 13}}
},
"layer": [
  {"mark": {"type": "tick", "orient": "vertical", "size": 13, "thickness": 1.3, "color": "black", "opacity": 1}},
  {"mark": {"type": "circle", "size": 22, "color": "red", "opacity": 1}}
]
}
